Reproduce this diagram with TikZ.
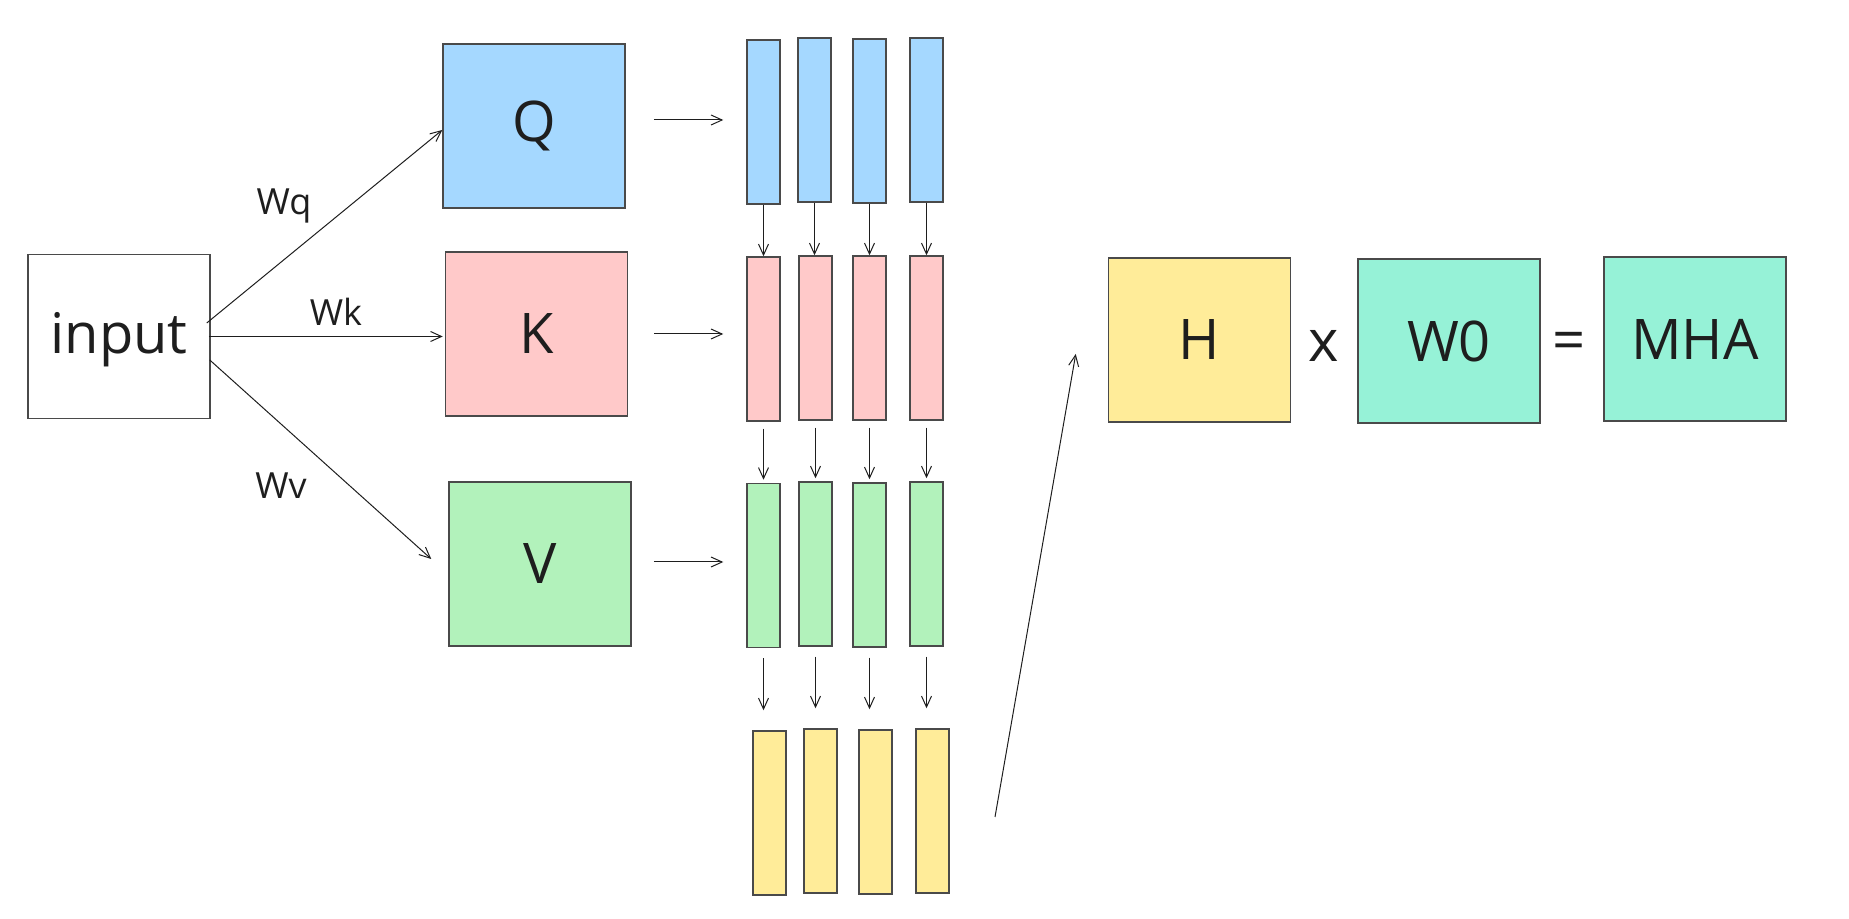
\documentclass[tikz,border=0pt]{standalone}
\usepackage{fontspec}
\setmainfont{Open Sans}
\usetikzlibrary{arrows.meta,calc}
\definecolor{ink}{HTML}{1E1E1E}
\definecolor{edge}{HTML}{4A4A4A}
\definecolor{qblue}{HTML}{A5D8FF}
\definecolor{kpink}{HTML}{FFC9C9}
\definecolor{vgreen}{HTML}{B2F2BB}
\definecolor{hyellow}{HTML}{FFEC99}
\definecolor{oteal}{HTML}{96F2D7}
\begin{document}
\begin{tikzpicture}[x=0.5pt,y=-0.5pt,
  box/.style={draw=edge, line width=0.75pt, inner sep=0pt, minimum width=91pt, minimum height=82pt, text=ink, font=\fontsize{28}{30}\selectfont},
  col/.style={draw=edge, line width=0.75pt, inner sep=0pt, minimum width=16.5pt, minimum height=82pt},
  arr/.style={draw=ink, line width=0.5pt, -{Straight Barb[length=5.5pt,width=5pt]}},
  lbl/.style={text=ink, inner sep=0pt, font=\fontsize{18}{20}\selectfont},
  op/.style={text=ink, inner sep=0pt, font=\fontsize{29}{30}\selectfont}]
\useasboundingbox (0,0) rectangle (1849,919);

% main boxes
\node[box, text height=21pt, text depth=3.8pt] (input) at (119,336.5) {input};
\node[box, fill=qblue] (Q) at (534,126) {Q};
\node[box, fill=kpink] (K) at (536.5,334) {K};
\node[box, fill=vgreen] (V) at (540,564) {V};
\node[box, fill=hyellow] (H) at (1199.5,340) {H};
\node[box, fill=oteal] (W) at (1449,341) {W0};
\node[box, fill=oteal] (MHA) at (1695,339) {MHA};
\node[op] (times) at (1324,346) {x};
\node[op] (eq) at (1569,346) {=};

% head columns
\foreach \i/\x/\y in {1/763.5/122, 2/814.5/120, 3/869.5/121, 4/926.5/120}
  \node[col, fill=qblue] (b\i) at (\x,\y) {};
\foreach \i/\x/\y in {1/763.5/339, 2/815.5/338, 3/869.5/338, 4/926.5/338}
  \node[col, fill=kpink] (p\i) at (\x,\y) {};
\foreach \i/\x/\y in {1/763.5/565.5, 2/815.5/564, 3/869.5/565, 4/926.5/564}
  \node[col, fill=vgreen] (g\i) at (\x,\y) {};
\foreach \i/\x/\y in {1/769.5/813, 2/820.5/811, 3/875.5/812, 4/932.5/811}
  \node[col, fill=hyellow] (y\i) at (\x,\y) {};

% input projections
\draw[arr] ([xshift=-2pt,yshift=6.75pt]input.east) -- ([yshift=-2pt]Q.west);
\draw[arr] ([xshift=-1pt]input.east) -- ([xshift=-1pt]input.east -| K.west);
\draw[arr] ([xshift=-0.5pt,yshift=-11.75pt]input.east) -- ([xshift=-8.5pt,yshift=2.5pt]V.west);
\node[lbl] (wq) at (284,206) {Wq};
\node[lbl] (wk) at (336,312) {Wk};
\node[lbl] (wv) at (281,486) {Wv};

% split arrows
\draw[arr, shorten <=14pt, shorten >=11.5pt] ([yshift=3pt]Q.east) -- ([yshift=3pt]Q.east -| b1.west);
\draw[arr, shorten <=13pt, shorten >=11.5pt] (K.east) -- (K.east -| p1.west);
\draw[arr, shorten <=11pt, shorten >=11.5pt] ([yshift=1pt]V.east) -- ([yshift=1pt]V.east -| g1.west);

% column arrows
\foreach \i in {1,...,4}{
  \draw[arr] (b\i.south) -- (b\i.south |- p\i.north);
  \draw[arr, shorten <=3.5pt, shorten >=1.5pt] (p\i.south) -- (p\i.south |- g\i.north);
  \draw[arr, shorten <=5pt, shorten >=10pt] (g\i.south) -- (g\i.south |- y\i.north);
}

% to H
\coordinate (hs) at (995,817);
\draw[arr] (hs) -- ([xshift=-16pt,yshift=-7pt]H.west);
\end{tikzpicture}
\end{document}
